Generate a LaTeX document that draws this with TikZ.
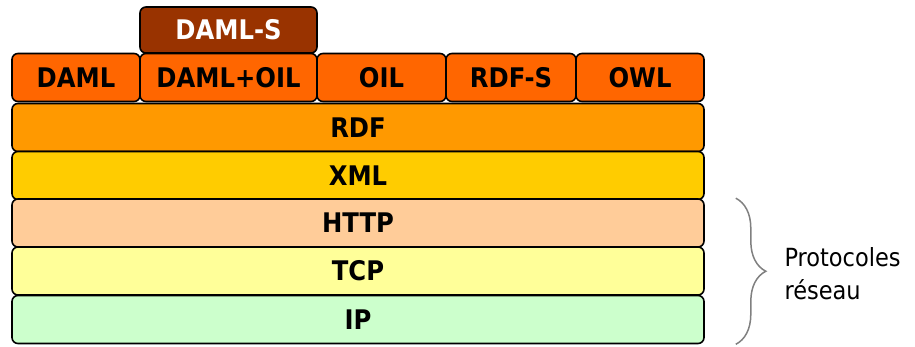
\documentclass[tikz,border=0pt]{standalone}
\usepackage{fontspec}
\newfontfamily\layerfont{DejaVu Sans Condensed}
\usetikzlibrary{positioning,decorations.pathreplacing}

\definecolor{damlsbrown}{HTML}{993300}
\definecolor{langorange}{HTML}{FF6600}
\definecolor{rdforange}{HTML}{FF9900}
\definecolor{xmlyellow}{HTML}{FFCC00}
\definecolor{httppeach}{HTML}{FFCC99}
\definecolor{tcpyellow}{HTML}{FFFF99}
\definecolor{ipgreen}{HTML}{CCFFCC}

\begin{document}
\begin{tikzpicture}[x=1pt,y=-1pt,
    layer/.style={draw=black, line width=1.6pt, rounded corners=6pt, inner sep=0pt,
      minimum height=48pt, font=\layerfont\bfseries\fontsize{27}{27}\selectfont},
    wide/.style={layer, minimum width=692pt}
  ]
    \useasboundingbox (0,0) rectangle (915,347);

    % DAML-S on top of DAML+OIL
    \node[layer, fill=damlsbrown, text=white, minimum width=177pt, minimum height=46pt] (damls) at (228.5,30) {DAML-S};

    % Ontology languages row
    \foreach \name/\lbl/\cx/\w in {daml/DAML/76/128, damloil/DAML+OIL/228.5/177,
        oil/OIL/381.5/129, rdfs/RDF-S/511/130, owl/OWL/640/128}
        \node[layer, fill=langorange, minimum width=\w pt] (\name) at (\cx,77.5) {\lbl};

    % Stack layers
    \node[wide, fill=rdforange] (rdf) at (358,127.5) {RDF};
    \node[wide, fill=xmlyellow] (xml) at (358,175.5) {XML};
    \node[wide, fill=httppeach] (http) at (358,223) {HTTP};
    \node[wide, fill=tcpyellow] (tcp) at (358,271) {TCP};
    \node[wide, fill=ipgreen] (ip) at (358,319.5) {IP};

    % Brace for network protocols
    \coordinate (bt) at ([xshift=31pt]http.north east);
    \coordinate (bb) at ([xshift=31pt]ip.south east);
    \draw[gray, line width=1.5pt, decorate, decoration={brace, amplitude=30pt}] (bt) -- (bb);
    \node[anchor=west, align=left, font=\layerfont\fontsize{25}{33}\selectfont] (proto) at (781,274) {Protocoles\\réseau};
\end{tikzpicture}
\end{document}
